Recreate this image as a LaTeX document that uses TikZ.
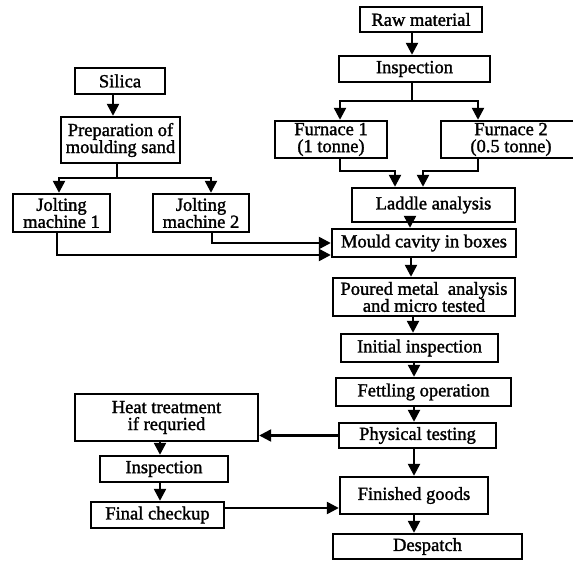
\documentclass[tikz,border=0pt]{standalone}
\usepackage{fontspec}
\setmainfont{Liberation Serif}
\newfontfamily\stagefont[FakeBold=1.5]{Liberation Serif}
\usetikzlibrary{arrows.meta}

\begin{document}
\begin{tikzpicture}[x=1pt,y=-1pt,
    stage/.style={draw,line width=2.4pt,inner sep=0pt,align=center,
        font=\stagefont\fontsize{18.5}{17}\selectfont},
    line/.style={line width=2.4pt},
    link/.style={line width=2.4pt,-{Triangle[length=12pt,width=12pt]}}]
    \useasboundingbox (0,0) rectangle (573,561);

    % main line
    \node[stage,minimum width=122,minimum height=25] (raw) at (421,19.5) {Raw material};
    \node[stage,minimum width=151,minimum height=26] (insp) at (414.5,69) {Inspection};
    \node[stage,minimum width=112,minimum height=37] (fur1) at (331,139.5) {Furnace 1\\(1 tonne)};
    \node[stage,minimum width=140,minimum height=37] (fur2) at (511,139.5) {Furnace 2\\(0.5 tonne)};
    \node[stage,minimum width=163,minimum height=34] (ladd) at (433.5,205) {Laddle analysis};
    \node[stage,minimum width=184,minimum height=28] (mould) at (424,243) {Mould cavity in boxes};
    \node[stage,minimum width=182,minimum height=38] (poured) at (424,297) {Poured metal\ \ analysis\\and micro tested};
    \node[stage,minimum width=157,minimum height=28] (init) at (419.5,348) {Initial inspection};
    \node[stage,minimum width=175,minimum height=28] (fett) at (423.5,392) {Fettling operation};
    \node[stage,minimum width=157,minimum height=25] (phys) at (417.5,435.5) {Physical testing};
    \node[stage,minimum width=148,minimum height=37] (fin) at (414,495.5) {Finished goods};
    \node[stage,minimum width=189,minimum height=25] (desp) at (427.5,546.5) {Despatch};

    % sand line
    \node[stage,minimum width=90,minimum height=26] (silica) at (120,81) {Silica};
    \node[stage,minimum width=119,minimum height=46] (prep) at (120.5,140) {Preparation of\\moulding sand};
    \node[stage,minimum width=97,minimum height=38] (jolt1) at (61.5,213) {Jolting\\machine 1};
    \node[stage,minimum width=96,minimum height=38] (jolt2) at (201,213) {Jolting\\machine 2};

    % heat treatment loop
    \node[stage,minimum width=183,minimum height=47] (heat) at (166.5,417.5) {Heat treatment\\if requried};
    \node[stage,minimum width=128,minimum height=26] (insp2) at (164,469) {Inspection};
    \node[stage,minimum width=133,minimum height=26] (final) at (157.5,515) {Final checkup};

    % connectors
    \draw[link] ([xshift=-9]raw.south) -- ([xshift=-9]raw.south |- insp.north);
    \draw[line] ([xshift=-2.5]insp.south) -- ++(0,18) coordinate (isplit);
    \draw[link] (isplit) -| ([xshift=9]fur1.north);
    \draw[link] (isplit) -| ([xshift=-33]fur2.north);
    \draw[link] ([xshift=9]fur1.south) -- ++(0,12) -| ([xshift=-38.5]ladd.north);
    \draw[link] ([xshift=-33]fur2.south) -- ++(0,12) -| ([xshift=-10.5]ladd.north);
    \draw[link] ([xshift=-23.5]ladd.south) -- ([xshift=-23.5]ladd.south |- mould.north);
    \draw[link] ([xshift=-13]mould.south) -- ([xshift=-13]mould.south |- poured.north);
    \draw[link] ([xshift=-11]poured.south) -- ([xshift=-11]poured.south |- init.north);
    \draw[link] ([xshift=-5.5]init.south) -- ([xshift=-5.5]init.south |- fett.north);
    \draw[link] ([xshift=-9.5]fett.south) -- ([xshift=-9.5]fett.south |- phys.north);
    \draw[link] ([xshift=-3.5]phys.south) -- ([xshift=-3.5]phys.south |- fin.north);
    \draw[link] (fin.south) -- (fin.south |- desp.north);

    \draw[link] ([xshift=-7]silica.south) -- ([xshift=-7]silica.south |- prep.north);
    \draw[line] ([xshift=-3.5]prep.south) -- ++(0,14) coordinate (psplit);
    \draw[link] (psplit) -| ([xshift=-2.5]jolt1.north);
    \draw[link] (psplit) -| ([xshift=10]jolt2.north);
    \draw[link] ([xshift=11]jolt2.south) |- (mould.west);
    \draw[link] ([xshift=-4.5]jolt1.south) |- ([yshift=-12]mould.west);

    \draw[link] (phys.west) -- (phys.west -| heat.east);
    \draw[link] ([xshift=-6.5]heat.south) -- ([xshift=-6.5]heat.south |- insp2.north);
    \draw[link] ([xshift=-4]insp2.south) -- ([xshift=-4]insp2.south |- final.north);
    \draw[link] ([yshift=7]final.east) -- ([yshift=7]final.east -| fin.west);
\end{tikzpicture}
\end{document}
